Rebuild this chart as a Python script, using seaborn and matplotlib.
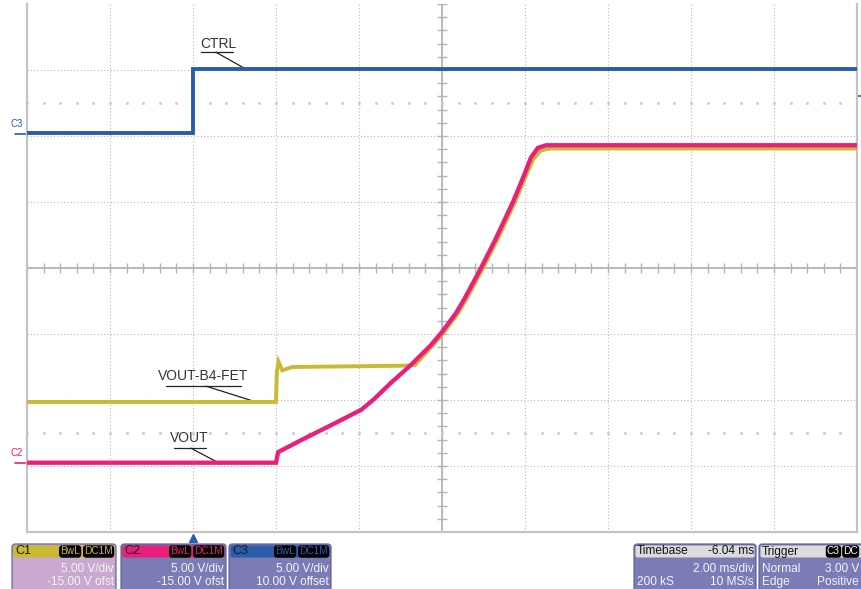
import numpy as np
import pandas as pd
import seaborn as sns
import matplotlib.pyplot as plt
from matplotlib.patches import FancyBboxPatch

sns.set_style('white')
plt.rcParams['font.family'] = ['Liberation Sans', 'DejaVu Sans']

# time in ms (trigger at 0), vertical position in screen divisions
ctrl_t = [-4.0, 0.0, 0.0, 16.0]
ctrl_y = [2.05, 2.05, 3.02, 3.02]

vout_t = [-4.0, 2.0, 2.05, 2.6, 3.33, 4.05, 4.34, 4.77, 5.25, 5.73, 6.0, 6.34,
          6.53, 6.94, 7.30, 7.71, 7.98, 8.14, 8.31, 8.51, 16.0]
vout_y = [-2.95, -2.95, -2.79, -2.61, -2.38, -2.15, -2.0, -1.74, -1.47, -1.17, -0.97, -0.68,
          -0.48, 0.0, 0.45, 1.0, 1.41, 1.67, 1.82, 1.86, 1.86]

fet_t = [-4.0, 2.0, 2.02, 2.06, 2.15, 2.4, 5.1, 5.35, 5.78, 6.05, 6.39,
         6.58, 6.99, 7.35, 7.76, 8.03, 8.2, 8.38, 8.6, 16.0]
fet_y = [-2.03, -2.03, -1.58, -1.42, -1.55, -1.50, -1.48, -1.47, -1.17, -0.97, -0.68,
         -0.48, 0.0, 0.45, 1.0, 1.41, 1.65, 1.78, 1.81, 1.81]

c_yel = '#c9ba32'
c_pink = '#ea1f7b'
c_blue = '#2b5cab'
grid_c = '#b8b8b8'

W, H = 862, 589
fig = plt.figure(figsize=(W / 100, H / 100), dpi=100)
ax = fig.add_axes([27 / W, 57 / H, 830 / W, 528 / H])

line_kw = dict(sort=False, estimator=None, solid_joinstyle='miter', solid_capstyle='butt', ax=ax)
df_fet = pd.DataFrame({'t': fet_t, 'v': fet_y})
df_vout = pd.DataFrame({'t': vout_t, 'v': vout_y})
df_ctrl = pd.DataFrame({'t': ctrl_t, 'v': ctrl_y})
sns.lineplot(data=df_fet, x='t', y='v', color=c_yel, lw=2.8, zorder=5, **line_kw)
sns.lineplot(data=df_vout, x='t', y='v', color=c_pink, lw=3.1, zorder=6, **line_kw)
sns.lineplot(data=df_ctrl, x='t', y='v', color=c_blue, lw=2.8, zorder=7, **line_kw)

ax.set_xlim(-4, 16)
ax.set_ylim(-4, 4)
ax.set_xticks(np.arange(-4, 17, 2))
ax.set_yticks(np.arange(-4, 4, 1))
ax.set_xticklabels([])
ax.set_yticklabels([])
ax.tick_params(length=0)
ax.set_xlabel('')
ax.set_ylabel('')
ax.grid(True, ls=(0, (1, 2)), color=grid_c, lw=0.8)
for s in ['left', 'bottom', 'right']:
    ax.spines[s].set_color('#c4c4c4')
    ax.spines[s].set_linewidth(1.6)
ax.spines['top'].set_visible(False)

# center cross with minor ticks
ax.axhline(0, color='#b4b4b4', lw=1.3, zorder=1)
ax.axvline(6, color='#b4b4b4', lw=1.3, zorder=1)
mx = np.arange(-4, 16.01, 0.4)
my = np.arange(-4, 4.01, 0.2)
ax.vlines(mx, -0.07, 0.07, color='#b4b4b4', lw=1.0, zorder=1)
ax.hlines(my, 5.88, 6.12, color='#b4b4b4', lw=1.0, zorder=1)
for yy in [2.5, -2.5]:
    ax.plot(mx, [yy] * len(mx), ls='none', marker='s', ms=1.0, color='#cccccc', zorder=1)

# annotations
lab_c = '#333333'
ax.text(0.6, 3.4, 'CTRL', ha='center', va='center', fontsize=10, color=lab_c)
ax.plot([0.19, 0.96], [3.27, 3.27], color='#222', lw=0.9)
ax.plot([0.55, 1.23], [3.27, 3.03], color='#222', lw=0.9)
ax.text(0.25, -1.63, 'VOUT-B4-FET', ha='center', va='center', fontsize=10, color=lab_c)
ax.plot([-0.65, 1.16], [-1.79, -1.79], color='#222', lw=0.9)
ax.plot([0.31, 1.52], [-1.79, -2.03], color='#222', lw=0.9)
ax.text(-0.08, -2.57, 'VOUT', ha='center', va='center', fontsize=10, color=lab_c)
ax.plot([-0.46, 0.31], [-2.73, -2.73], color='#222', lw=0.9)
ax.plot([-0.05, 0.67], [-2.73, -2.97], color='#222', lw=0.9)

# channel markers
ax.plot([-4.28, -4.0], [2.03, 2.03], color=c_blue, lw=1.2, clip_on=False)
ax.text(-4.4, 2.1, 'C3', color=c_blue, fontsize=7, ha='left', va='bottom', clip_on=False)
ax.plot([-4.28, -4.0], [-2.95, -2.95], color=c_pink, lw=1.2, clip_on=False)
ax.text(-4.4, -2.88, 'C2', color=c_pink, fontsize=7, ha='left', va='bottom', clip_on=False)
ax.plot([16.02, 16.12], [2.6, 2.6], color=c_blue, lw=1.2, clip_on=False)
ax.plot([0], [-4.09], marker='^', ms=5.5, color=c_blue, clip_on=False, ls='none')

# status panels, drawn in pixel coordinates
ov = fig.add_axes([0, 0, 1, 1])
ov.set_xlim(0, W)
ov.set_ylim(H, 0)
ov.axis('off')
ov.patch.set_alpha(0)

body_c = '#7b7bb5'
txt_c = '#f4f4fa'


def panel(x0, x1, head_c, body):
    ov.add_patch(FancyBboxPatch((x0, 544), x1 - x0, 48, boxstyle='round,pad=0,rounding_size=3',
                                fc=body, ec='#5a5a90', lw=0.8))
    ov.add_patch(FancyBboxPatch((x0 + 1.5, 545.5), x1 - x0 - 3, 12,
                                boxstyle='round,pad=0,rounding_size=2', fc=head_c, ec='none'))


def badge(x, s, col):
    ov.text(x, 551.5, s, ha='right', va='center', fontsize=7.3, color=col,
            bbox=dict(boxstyle='round,pad=0.12,rounding_size=0.3', fc='black', ec='none'))


fs = 8.6
chans = [(12, 116, c_yel, '#c9a9cf', 'C1', '-15.00 V ofst'),
         (121, 226, c_pink, body_c, 'C2', '-15.00 V ofst'),
         (229, 331, c_blue, body_c, 'C3', '10.00 V offset')]
for x0, x1, hc, bc, name, ofs in chans:
    panel(x0, x1, hc, bc)
    ov.text(x0 + 3, 551.5, name, ha='left', va='center', fontsize=9, color='#1a1a1a')
    badge(x1 - 3, 'DC1M', hc)
    badge(x1 - 36, 'BwL', hc)
    ov.text(x1 - 2, 569, '5.00 V/div', ha='right', va='center', fontsize=fs, color=txt_c)
    ov.text(x1 - 2, 582, ofs, ha='right', va='center', fontsize=fs, color=txt_c)

panel(634, 756, '#dcdcdc', body_c)
ov.text(637, 551.5, 'Timebase', ha='left', va='center', fontsize=fs, color='#111')
ov.text(754, 551.5, '-6.04 ms', ha='right', va='center', fontsize=fs, color='#111')
ov.text(754, 569, '2.00 ms/div', ha='right', va='center', fontsize=fs, color=txt_c)
ov.text(637, 582, '200 kS', ha='left', va='center', fontsize=fs, color=txt_c)
ov.text(754, 582, '10 MS/s', ha='right', va='center', fontsize=fs, color=txt_c)

panel(759, 864, '#dcdcdc', body_c)
ov.text(762, 551.5, 'Trigger', ha='left', va='center', fontsize=fs, color='#111')
badge(858, 'DC', 'white')
badge(840, 'C3', 'white')
ov.text(762, 569, 'Normal', ha='left', va='center', fontsize=fs, color=txt_c)
ov.text(859, 569, '3.00 V', ha='right', va='center', fontsize=fs, color=txt_c)
ov.text(762, 582, 'Edge', ha='left', va='center', fontsize=fs, color=txt_c)
ov.text(859, 582, 'Positive', ha='right', va='center', fontsize=fs, color=txt_c)

fig.savefig('out.png', dpi=100)
